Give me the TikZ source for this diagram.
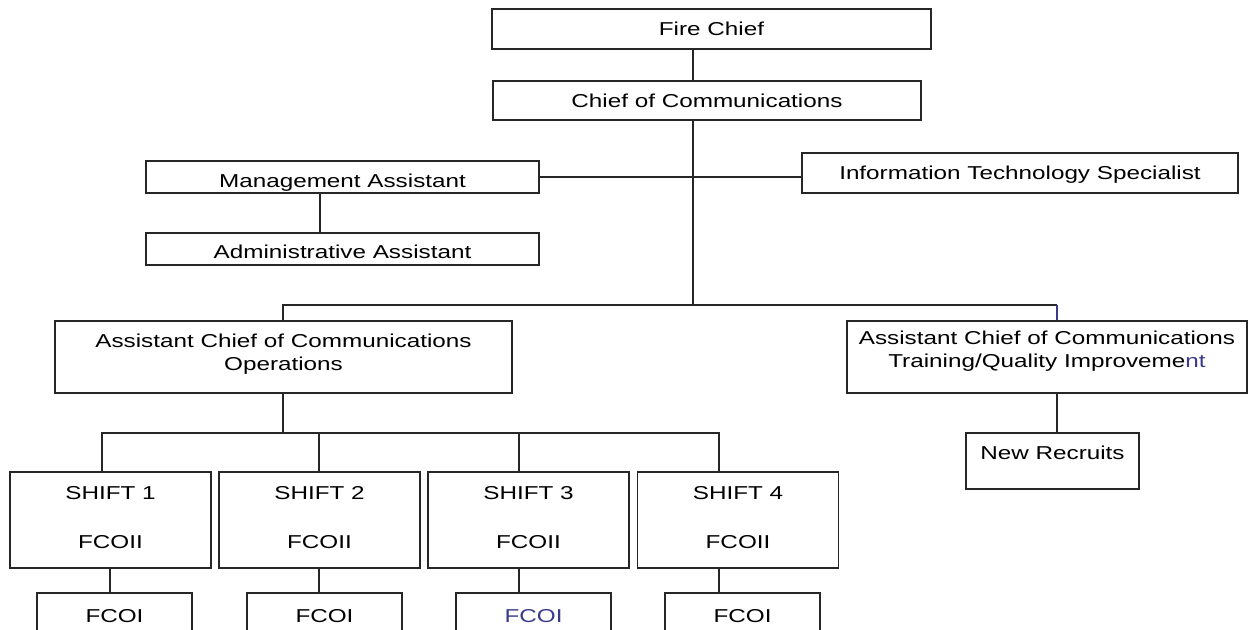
\documentclass[tikz,border=0pt]{standalone}
\usepackage{fontspec}
\setmainfont[FakeStretch=1.3]{Liberation Sans}
\definecolor{inkblue}{RGB}{58,58,140}
\tikzset{
  orgbox/.style={draw=black!85,line width=1pt,inner sep=0pt,text height=10pt,text depth=0pt,align=center},
  orgline/.style={draw=black!85,line width=1pt},
}
\begin{document}
\begin{tikzpicture}[x=0.75pt,y=-0.75pt,font=\fontsize{14pt}{17.25pt}\selectfont]
\clip (0,0) rectangle (1249,630);

% top of the chart
\node[orgbox,minimum width=329.25pt,minimum height=30pt] (fire) at (711.5,29) {Fire Chief};
\node[orgbox,minimum width=321pt,minimum height=29.25pt] (coc) at (707,100.5) {Chief of Communications};
\node[orgbox,minimum width=294.75pt,minimum height=24pt,text height=16pt] (mgmt) at (342.5,177) {Management Assistant};
\node[orgbox,minimum width=294.75pt,minimum height=24pt,text height=14pt] (admin) at (342.5,249) {Administrative Assistant};
\node[orgbox,minimum width=327pt,minimum height=30pt] (itspec) at (1020,173) {Information Technology Specialist};

% assistant chiefs
\node[orgbox,minimum width=342.75pt,minimum height=54pt,text height=20.5pt] (ops) at (283.5,357) {Assistant Chief of Communications\\Operations};
\node[orgbox,minimum width=300pt,minimum height=54pt,text height=16pt] (train) at (1047,357) {Assistant Chief of Communications\\Training/Quality Improveme\textcolor{inkblue}{nt}};
\node[orgbox,minimum width=129.75pt,minimum height=42pt,text depth=12pt] (recruits) at (1052.5,461) {New Recruits};

% shifts
\node[orgbox,minimum width=150.75pt,minimum height=72pt,text height=43pt] (shift1) at (110.5,520) {SHIFT 1\\[19.5pt]FCOII};
\node[orgbox,minimum width=150.75pt,minimum height=72pt,text height=43pt] (shift2) at (319.5,520) {SHIFT 2\\[19.5pt]FCOII};
\node[orgbox,minimum width=150.75pt,minimum height=72pt,text height=43pt] (shift3) at (528.5,520) {SHIFT 3\\[19.5pt]FCOII};
\node[orgbox,minimum width=150.75pt,minimum height=72pt,text height=43pt] (shift4) at (738,520) {SHIFT 4\\[19.5pt]FCOII};

\node[orgbox,minimum width=116.25pt,minimum height=34.5pt] (fcoi1) at (114.5,616) {FCOI};
\node[orgbox,minimum width=116.25pt,minimum height=34.5pt] (fcoi2) at (324.5,616) {FCOI};
\node[orgbox,minimum width=116.25pt,minimum height=34.5pt,text=inkblue] (fcoi3) at (533.5,616) {FCOI};
\node[orgbox,minimum width=116.25pt,minimum height=34.5pt] (fcoi4) at (742.5,616) {FCOI};

% connectors
\coordinate (trunk) at (693,305);
\coordinate (opsbar) at (283,305);
\coordinate (trainbar) at (1057,305);
\coordinate (shiftbar) at (283,433);

\draw[orgline] (fire.south -| trunk) -- (coc.north -| trunk);
\draw[orgline] (coc.south -| trunk) -- (trunk);
\draw[orgline] (mgmt.east) -- (mgmt.east -| itspec.west);
\draw[orgline] (mgmt.south -| 320,0) -- (admin.north -| 320,0);

\draw[orgline] (ops.north -| opsbar) -- (opsbar) -- (trainbar);
\draw[line width=1pt,inkblue] (trainbar) -- (train.north -| trainbar);
\draw[orgline] (train.south -| trainbar) -- (recruits.north -| trainbar);

\draw[orgline] (ops.south -| shiftbar) -- (shiftbar);
\draw[orgline] (shift1.north -| 102,0) -- (102,433) -- (719,433) -- (shift4.north -| 719,0);
\draw[orgline] (shift2.north -| 319,0) -- (319,433);
\draw[orgline] (shift3.north -| 519,0) -- (519,433);

\draw[orgline] (shift1.south -| 110,0) -- (fcoi1.north -| 110,0);
\draw[orgline] (shift2.south -| 319,0) -- (fcoi2.north -| 319,0);
\draw[orgline] (shift3.south -| 519,0) -- (fcoi3.north -| 519,0);
\draw[orgline] (shift4.south -| 719,0) -- (fcoi4.north -| 719,0);

\end{tikzpicture}
\end{document}
